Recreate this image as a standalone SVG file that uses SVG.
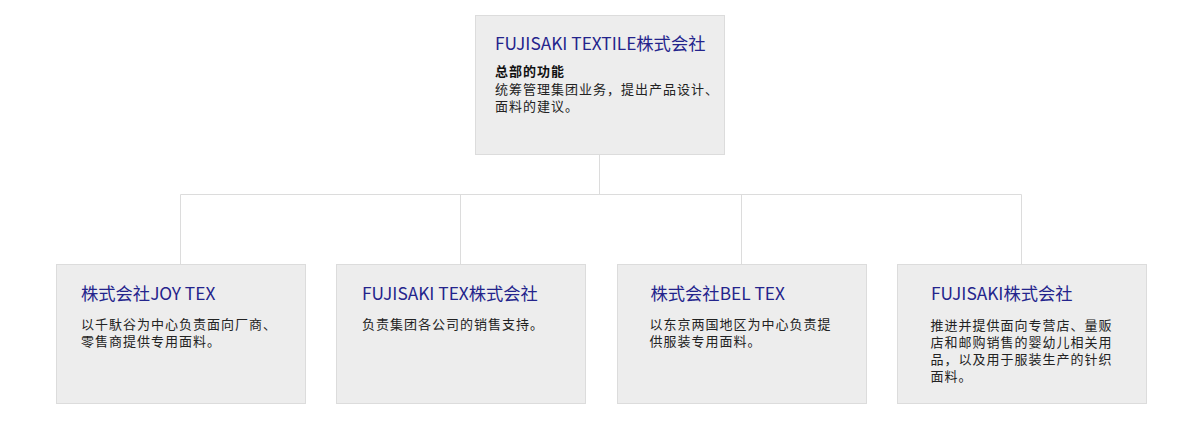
<svg xmlns="http://www.w3.org/2000/svg" width="1200" height="421" viewBox="0 0 1200 421">
<style>
.box{fill:#ededed;stroke:#dcdcdc;stroke-width:1}
.ttl{font-family:"Noto Sans CJK SC","Noto Sans",sans-serif;font-size:17.3px;fill:#24248c}
.txt{font-family:"Noto Sans CJK SC","Noto Sans",sans-serif;font-size:13px;letter-spacing:1px;fill:#222}
.b{font-weight:bold;fill:#111}
.ln{stroke:#dcdcdc;stroke-width:1;fill:none}
</style>
<rect width="1200" height="421" fill="#fff"/>
<g id="connectors">
<path class="ln" d="M599.5 155V194.5M180.5 194.5H1021.5M180.5 194.5V264M460.5 194.5V264M741.5 194.5V264M1021.5 194.5V264"/>
</g>
<g id="hq">
<rect class="box" x="475.5" y="15.5" width="249" height="139"/>
<text class="ttl" x="495" y="50">FUJISAKI TEXTILE株式会社</text>
<text class="txt b" x="495" y="76">总部的功能</text>
<text class="txt" x="495" y="94">统筹管理集团业务，提出产品设计、</text>
<text class="txt" x="495" y="111">面料的建议。</text>
</g>
<g id="joytex">
<rect class="box" x="56.5" y="264.5" width="249" height="139"/>
<text class="ttl" x="81" y="300">株式会社JOY TEX</text>
<text class="txt" x="81" y="329">以千馱谷为中心负责面向厂商、</text>
<text class="txt" x="81" y="346">零售商提供专用面料。</text>
</g>
<g id="fujisakitex">
<rect class="box" x="336.5" y="264.5" width="249" height="139"/>
<text class="ttl" x="362" y="300">FUJISAKI TEX株式会社</text>
<text class="txt" x="362" y="329">负责集团各公司的销售支持。</text>
</g>
<g id="beltex">
<rect class="box" x="617.5" y="264.5" width="249" height="139"/>
<text class="ttl" x="650.5" y="300">株式会社BEL TEX</text>
<text class="txt" x="649.5" y="329">以东京两国地区为中心负责提</text>
<text class="txt" x="649.5" y="346">供服装专用面料。</text>
</g>
<g id="fujisaki">
<rect class="box" x="897.5" y="264.5" width="249" height="139"/>
<text class="ttl" x="931" y="300">FUJISAKI株式会社</text>
<text class="txt" x="930.5" y="330">推进并提供面向专营店、量贩</text>
<text class="txt" x="930.5" y="347">店和邮购销售的婴幼儿相关用</text>
<text class="txt" x="930.5" y="364">品，以及用于服装生产的针织</text>
<text class="txt" x="930.5" y="381">面料。</text>
</g>
</svg>
